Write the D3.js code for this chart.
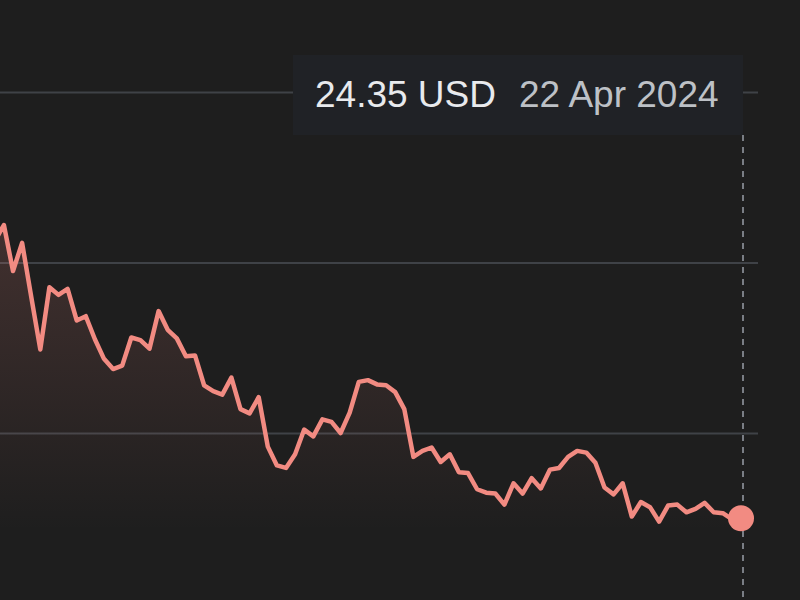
<!DOCTYPE html>
<html>
<head>
<meta charset="utf-8">
<script src="https://cdn.jsdelivr.net/npm/d3@7"></script>
<style>
  html, body { margin: 0; padding: 0; background: #1e1e1e; }
  svg { display: block; }
</style>
</head>
<body>
<svg id="chart"></svg>
<script>
  // closing prices, oldest first, last one is 22 Apr 2024
  var prices = [27.60, 27.79, 27.25, 27.58, 26.95, 26.33, 27.06, 26.97, 27.04, 26.67,
                26.72, 26.45, 26.22, 26.10, 26.14, 26.47, 26.44, 26.34, 26.78, 26.56,
                26.46, 26.25, 26.26, 25.91, 25.84, 25.80, 26.00, 25.63, 25.58, 25.77,
                25.19, 24.97, 24.94, 25.10, 25.39, 25.31, 25.51, 25.48, 25.35, 25.59,
                25.95, 25.97, 25.92, 25.91, 25.83, 25.63, 25.07, 25.14, 25.18, 25.01,
                25.10, 24.89, 24.88, 24.69, 24.65, 24.64, 24.51, 24.76, 24.64, 24.82,
                24.70, 24.92, 24.94, 25.07, 25.14, 25.12, 25.00, 24.71, 24.63, 24.76,
                24.37, 24.54, 24.48, 24.31, 24.50, 24.51, 24.42, 24.46, 24.53, 24.42,
                24.41, 24.34, 24.35];
  var gridTicks = [25.35, 27.35, 29.35];
  var lastLabel = "24.35 USD";
  var lastDate = "22 Apr 2024";

  var width = 800, height = 600;
  var lineColor = "#f28b82";

  var svg = d3.select("#chart")
              .attr("width", width)
              .attr("height", height);

  svg.append("rect")
     .attr("width", width)
     .attr("height", height)
     .attr("fill", "#1e1e1e");

  var xScale = d3.scaleLinear()
                 .domain([0, prices.length - 1])
                 .range([-5.2, 741]);

  var yScale = d3.scaleLinear()
                 .domain([25.35, 29.35])
                 .range([433, 92]);

  // gridlines
  var grid = d3.axisLeft(yScale)
               .tickValues(gridTicks)
               .tickSize(-758)
               .tickFormat("");

  svg.append("g")
     .attr("class", "grid")
     .call(grid)
     .call(g => g.select(".domain").remove())
     .selectAll("line")
       .attr("stroke", "#3f4247")
       .attr("stroke-width", 2);

  // area fill
  var defs = svg.append("defs");
  var grad = defs.append("linearGradient")
                 .attr("id", "fade")
                 .attr("gradientUnits", "userSpaceOnUse")
                 .attr("x1", 0).attr("x2", 0)
                 .attr("y1", yScale(27.8)).attr("y2", yScale(24.2));
  grad.append("stop").attr("offset", 0).attr("stop-color", lineColor).attr("stop-opacity", 0.17);
  grad.append("stop").attr("offset", 1).attr("stop-color", lineColor).attr("stop-opacity", 0);

  var area = d3.area()
               .x((d, i) => xScale(i))
               .y0(height)
               .y1(d => yScale(d));

  svg.append("path")
     .datum(prices)
     .attr("d", area)
     .attr("fill", "url(#fade)");

  // tooltip box
  var boxX = 293, boxY = 55;
  svg.append("rect")
     .attr("x", boxX)
     .attr("y", boxY)
     .attr("width", 450)
     .attr("height", 80)
     .attr("fill", "#202226");

  svg.append("text")
     .attr("x", 315)
     .attr("y", 107)
     .attr("font-family", "Liberation Sans, Arial, sans-serif")
     .attr("font-size", 37)
     .attr("fill", "#e8eaed")
     .text(lastLabel);

  svg.append("text")
     .attr("x", 519)
     .attr("y", 107)
     .attr("font-family", "Liberation Sans, Arial, sans-serif")
     .attr("font-size", 37)
     .attr("fill", "#bdc1c6")
     .text(lastDate);

  // hover rule
  var last = prices.length - 1;
  svg.append("line")
     .attr("x1", xScale(last) + 2)
     .attr("x2", xScale(last) + 2)
     .attr("y1", boxY + 80)
     .attr("y2", height)
     .attr("stroke", "#7a7e85")
     .attr("stroke-width", 2)
     .attr("stroke-dasharray", "6 6");

  var line = d3.line()
               .x((d, i) => xScale(i))
               .y(d => yScale(d));

  svg.append("path")
     .datum(prices)
     .attr("d", line)
     .attr("fill", "none")
     .attr("stroke", lineColor)
     .attr("stroke-width", 4.5)
     .attr("stroke-linejoin", "round");

  svg.append("circle")
     .attr("cx", xScale(last))
     .attr("cy", yScale(prices[last]))
     .attr("r", 13)
     .attr("fill", lineColor);
</script>
</body>
</html>
